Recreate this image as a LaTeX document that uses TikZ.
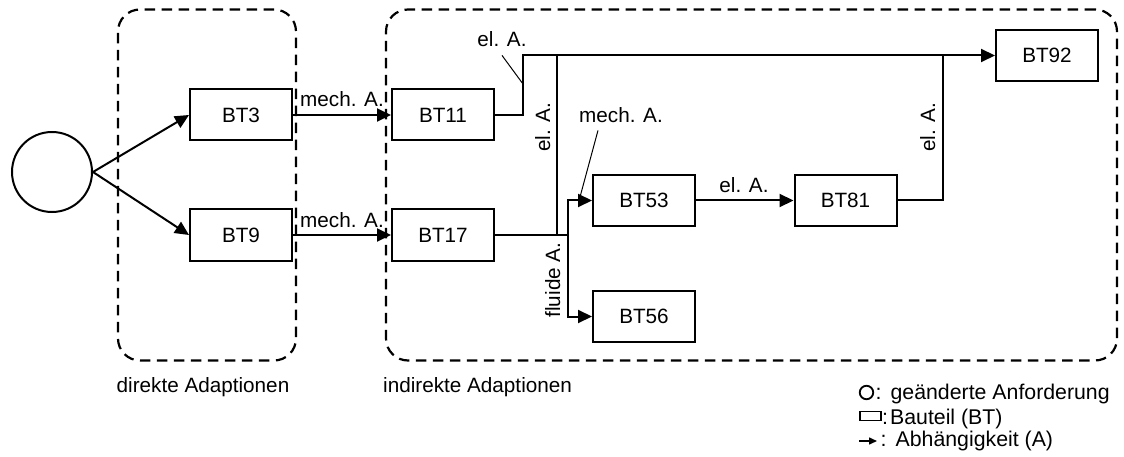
\documentclass[tikz,border=0pt]{standalone}
\usepackage{fontspec}
\setmainfont{Liberation Sans}
\usetikzlibrary{arrows.meta,calc}
\begin{document}
\begin{tikzpicture}[x=1pt,y=-1pt,
  font=\fontsize{20.7}{24}\selectfont,
  bt/.style={draw, line width=2pt, minimum width=102pt, minimum height=51pt, inner sep=0pt},
  conn/.style={line width=2pt},
  arr/.style={conn, -{Triangle[length=14pt,width=13pt]}},
  grp/.style={draw, line width=2.2pt, dash pattern=on 10.5pt off 6.5pt, rounded corners=22pt, inner sep=0pt},
  lbl/.style={inner sep=0pt},
  leglbl/.style={inner sep=0pt, anchor=base west, font=\fontsize{21.3}{24}\selectfont},
  leader/.style={line width=1pt}]
\useasboundingbox (0,0) rectangle (1124,457);

% groups
\node[grp, minimum width=178pt, minimum height=351pt] (direkt) at (207,185) {};
\node[grp, minimum width=731pt, minimum height=351pt] (indirekt) at (751.5,185) {};
\node[lbl, anchor=base] (ldirekt) at (203,392) {direkte Adaptionen};
\node[lbl, anchor=base west] (lindirekt) at (383,392) {indirekte Adaptionen};

% nodes
\node[draw, circle, line width=2pt, minimum size=80pt, inner sep=0pt] (req) at (52,172) {};
\node[bt] (bt3) at (241,115) {BT3};
\node[bt] (bt9) at (241,235) {BT9};
\node[bt] (bt11) at (443,115) {BT11};
\node[bt] (bt17) at (443,235) {BT17};
\node[bt] (bt53) at (644,200.5) {BT53};
\node[bt] (bt56) at (644,316.5) {BT56};
\node[bt] (bt81) at (845.5,200.5) {BT81};
\node[bt] (bt92) at (1047,55.5) {BT92};

% helper coordinates
\coordinate (split) at (568,235);
\coordinate (j1) at (557,235);
\coordinate (j2) at (557,55.5);
\coordinate (k1) at (523,84);
\coordinate (k2) at (580,197);

% connectors
\draw[arr] (req.east) -- (bt3.west);
\draw[arr] (req.east) -- (bt9.west);
\draw[arr] (bt3.east) -- (bt11.west);
\draw[arr] (bt9.east) -- (bt17.west);
\draw[arr] (bt11.east) -- ++(28,0) |- (bt92.west);
\draw[conn] (bt17.east) -- (split);
\draw[conn] (j1) -- (j2);
\draw[arr] (split) |- (bt53.west);
\draw[arr] (split) |- (bt56.west);
\draw[arr] (bt53.east) -- (bt81.west);
\draw[conn] (bt81.east) -| (943,55.5);

% labels
\node[lbl, anchor=base] (m1) at (342,107) {mech. A.};
\node[lbl, anchor=base] (m2) at (342,227) {mech. A.};
\node[lbl, anchor=base] (e1) at (502,47) {el. A.};
\node[lbl, anchor=base] (m3) at (621,123) {mech. A.};
\node[lbl, anchor=base] (e2) at (744,193) {el. A.};
\node[lbl, anchor=base, rotate=90] (e3) at (550,127) {el. A.};
\node[lbl, anchor=base, rotate=90] (e4) at (935,127) {el. A.};
\node[lbl, anchor=base, rotate=90] (f1) at (560,280) {fluide A.};
\draw[leader] ($(e1.south)+(0,8)$) -- (k1);
\draw[leader] ($(m3.south)+(-23,7)$) -- (k2);

% legend
\node[draw, circle, line width=1.8pt, minimum size=13.5pt, inner sep=0pt] (lc) at (866.5,392.5) {};
\node[leglbl] (lt1) at (875.5,399) {:\hspace{9pt}geänderte Anforderung};
\node[draw, line width=1.8pt, minimum width=21pt, minimum height=9pt, inner sep=0pt] (lr) at (870.5,416) {};
\node[leglbl] (lt2) at (882,424) {:\hspace{2pt}Bauteil (BT)};
\coordinate (la0) at (859,441);
\coordinate (la1) at (877,441);
\draw[line width=1.5pt, -{Triangle[length=8pt,width=7pt]}] (la0) -- (la1);
\node[leglbl] (lt3) at (880.5,446) {:\hspace{9pt}Abhängigkeit (A)};
\end{tikzpicture}
\end{document}
